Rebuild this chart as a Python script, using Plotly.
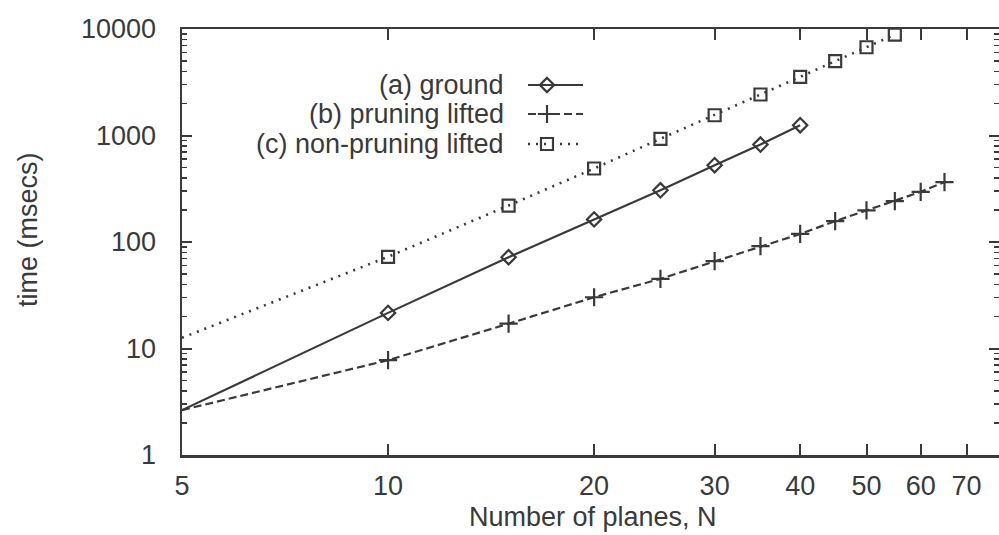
import numpy as np
import plotly.graph_objects as go

# ---- data ----
n_ground = [5, 10, 15, 20, 25, 30, 35, 40]
t_ground = [2.64, 21.6, 72, 163, 306, 526, 822, 1250]

n_pruning = [5, 10, 15, 20, 25, 30, 35, 40, 45, 50, 55, 60, 65]
t_pruning = [2.64, 7.77, 17.1, 30.3, 45.1, 66.1, 91.3, 119, 157, 198, 242, 296, 365]

n_nonpruning = [5, 10, 15, 20, 25, 30, 35, 40, 45, 50, 55]
t_nonpruning = [12.6, 72.6, 220, 490, 931, 1550, 2427, 3556, 4990, 6740, 8870]

x_ticks = [5, 10, 20, 30, 40, 50, 60, 70]
y_ticks = [1, 10, 100, 1000, 10000]

series_names = ["(a) ground", "(b) pruning lifted", "(c) non-pruning lifted"]

INK = "#3a3a3a"
FONT = "Liberation Sans, Arial, Helvetica, sans-serif"
FS = 27

W, H = 999, 535
L, R, T, B = 182, 0, 29, 80
PW = W - L - R
PH = H - T - B
px_per_decade = 684.5

styles = [
    dict(dash="solid", symbol="diamond-open", size=11, lw=2.2),
    dict(dash="8px,4px", symbol="cross-thin-open", size=13, lw=2.2),
    dict(dash="2px,6px", symbol="square-open", size=12, lw=2.6),
]
datasets = [(n_ground, t_ground), (n_pruning, t_pruning), (n_nonpruning, t_nonpruning)]

fig = go.Figure()
for (xs, ys), st, name in zip(datasets, styles, series_names):
    fig.add_trace(go.Scatter(
        x=xs, y=ys, mode="lines+markers", name=name, cliponaxis=False,
        line=dict(color=INK, width=st["lw"], dash=st["dash"]),
        marker=dict(symbol=st["symbol"], size=st["size"], color=INK,
                    line=dict(color=INK, width=2.2)),
        showlegend=False,
    ))

# ---- legend (text right-aligned, sample on the right, gnuplot style) ----
def to_px_x(px):
    return (px - L) / PW

def to_px_y(py):
    return (H - B - py) / PH

legend_rows_px = [85, 114, 144]
text_right_px = 506
sample_x0, sample_x1, sample_mark = 528, 583, 547
for name, st, ry in zip(series_names, styles, legend_rows_px):
    yy = to_px_y(ry)
    fig.add_annotation(text=name, xref="paper", yref="paper",
                       x=to_px_x(text_right_px), y=yy, xanchor="right", yanchor="middle",
                       showarrow=False, font=dict(family=FONT, size=FS, color=INK))
    fig.add_trace(go.Scatter(
        x=[to_px_x(sample_x0), to_px_x(sample_x1)], y=[yy, yy], mode="lines",
        xaxis="x2", yaxis="y2", showlegend=False, hoverinfo="skip",
        line=dict(color=INK, width=st["lw"], dash=st["dash"]), cliponaxis=False))
    fig.add_trace(go.Scatter(
        x=[to_px_x(sample_mark)], y=[yy], mode="markers",
        xaxis="x2", yaxis="y2", showlegend=False, hoverinfo="skip", cliponaxis=False,
        marker=dict(symbol=st["symbol"], size=st["size"], color=INK,
                    line=dict(color=INK, width=2.2))))

# axis titles
fig.add_annotation(text="Number of planes, N", xref="paper", yref="paper",
                   x=to_px_x(593), y=to_px_y(517), xanchor="center", yanchor="middle",
                   showarrow=False, borderpad=0, font=dict(family=FONT, size=FS, color=INK))
fig.add_annotation(text="time (msecs)", xref="paper", yref="paper", textangle=-90,
                   x=to_px_x(28), y=to_px_y(230), xanchor="center", yanchor="middle",
                   showarrow=False, font=dict(family=FONT, size=FS, color=INK))

xmin = np.log10(5)
xmax = xmin + PW / px_per_decade

fig.update_layout(
    width=W, height=H,
    margin=dict(l=L, r=R, t=T, b=B, autoexpand=False),
    paper_bgcolor="white", plot_bgcolor="white",
    font=dict(family=FONT, size=FS, color=INK),
    xaxis=dict(type="log", range=[xmin, xmax], tickvals=x_ticks,
               ticktext=[str(v) for v in x_ticks],
               ticks="inside", ticklen=11, tickwidth=2, tickcolor=INK,
               showline=True, linecolor=INK, linewidth=2.5, mirror="ticks",
               showgrid=False, zeroline=False, ticklabelstandoff=5,
               tickfont=dict(family=FONT, size=FS, color=INK)),
    yaxis=dict(type="log", range=[0, 4], tickvals=y_ticks,
               ticktext=[str(v) for v in y_ticks],
               ticks="inside", ticklen=10, tickwidth=2, tickcolor=INK,
               minor=dict(ticks="inside", ticklen=5, tickwidth=1.5, tickcolor=INK,
                          dtick="D1", showgrid=False),
               showline=True, linecolor=INK, linewidth=2.5, mirror="ticks",
               showgrid=False, zeroline=False, ticklabelstandoff=18,
               tickfont=dict(family=FONT, size=FS, color=INK)),
    xaxis2=dict(overlaying="x", range=[0, 1], visible=False, fixedrange=True),
    yaxis2=dict(overlaying="y", range=[0, 1], visible=False, fixedrange=True),
)

fig.write_html("out.html", config={"displayModeBar": False, "staticPlot": True},
               post_script="document.body.style.margin='0px';document.body.style.overflow='hidden';")
